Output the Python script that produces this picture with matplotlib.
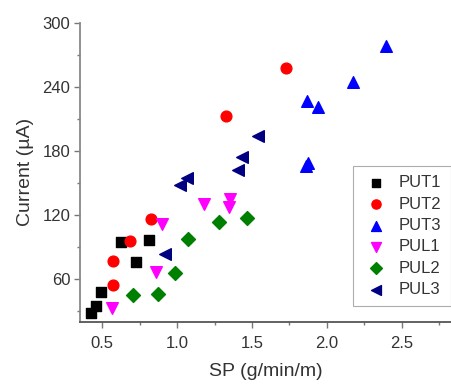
import matplotlib.pyplot as plt
from matplotlib.ticker import MultipleLocator

plt.rcParams['font.family'] = ['Liberation Sans', 'DejaVu Sans']

# SP (g/min/m) vs current (uA) for each sample
put1_sp = [0.425, 0.458, 0.491, 0.625, 0.813, 0.725]
put1_i = [28, 35, 48, 95, 97, 76]
put2_sp = [0.571, 0.575, 0.687, 0.827, 1.329, 1.725]
put2_i = [55, 77, 96, 116, 213, 258]
put3_sp = [2.391, 2.173, 1.869, 1.942, 1.86, 1.875]
put3_i = [278, 245, 227, 221, 166, 169]
pul1_sp = [0.569, 0.858, 0.902, 1.179, 1.353, 1.347]
pul1_i = [33, 67, 112, 130, 135, 128]
pul2_sp = [0.709, 0.871, 0.987, 1.075, 1.28, 1.465]
pul2_i = [45, 46, 66, 98, 114, 117]
pul3_sp = [0.92, 1.02, 1.065, 1.405, 1.431, 1.542]
pul3_i = [84, 148, 155, 162, 174, 194]

series = [
    ('PUT1', put1_sp, put1_i, 's', '#000000', 48),
    ('PUT2', put2_sp, put2_i, 'o', '#ff0000', 60),
    ('PUT3', put3_sp, put3_i, '^', '#0000ff', 70),
    ('PUL1', pul1_sp, pul1_i, 'v', '#ff00ff', 70),
    ('PUL2', pul2_sp, pul2_i, 'D', '#008000', 50),
    ('PUL3', pul3_sp, pul3_i, '<', '#000080', 70),
]

fig = plt.figure(figsize=(4.51, 3.85), dpi=100)
ax = fig.add_axes([0.1774, 0.1636, 0.8226, 0.7774])

for name, sp, cur, mk, col, sz in series:
    ax.scatter(sp, cur, marker=mk, s=sz, color=col, edgecolors=col, label=name, zorder=3)

ax.set_xlim(0.353, 2.827)
ax.set_ylim(20, 300)
ax.xaxis.set_major_locator(MultipleLocator(0.5))
ax.xaxis.set_minor_locator(MultipleLocator(0.25))
ax.yaxis.set_major_locator(MultipleLocator(60))
ax.yaxis.set_minor_locator(MultipleLocator(30))
ax.set_yticks([60, 120, 180, 240, 300])

for s in ['top', 'right']:
    ax.spines[s].set_visible(False)
ax.spines['left'].set_color('#888888')
ax.spines['bottom'].set_color('#555555')
for s in ['left', 'bottom']:
    ax.spines[s].set_linewidth(1.3)

ax.tick_params(which='major', direction='out', length=4, width=1, color='#777777',
               labelsize=12, labelcolor='#333333')
ax.tick_params(axis='x', which='major', pad=6)
ax.tick_params(axis='y', which='major', pad=3)
ax.tick_params(which='minor', direction='out', length=2, width=1, color='#777777')

ax.set_xlabel('SP (g/min/m)', fontsize=14, color='#333333', labelpad=9)
ax.set_ylabel('Current (µA)', fontsize=14, color='#333333', labelpad=6)

leg = ax.legend(loc='upper left', bbox_to_anchor=(0.736, 0.521), fontsize=12,
                frameon=True, fancybox=False, handletextpad=0.6, handlelength=1.6,
                labelspacing=0.38, borderpad=0.55, borderaxespad=0, scatterpoints=1,
                markerscale=0.85)
leg.get_frame().set_edgecolor('#999999')
leg.get_frame().set_linewidth(0.8)
for t in leg.get_texts():
    t.set_color('#333333')

fig.savefig('out.png', dpi=100)
